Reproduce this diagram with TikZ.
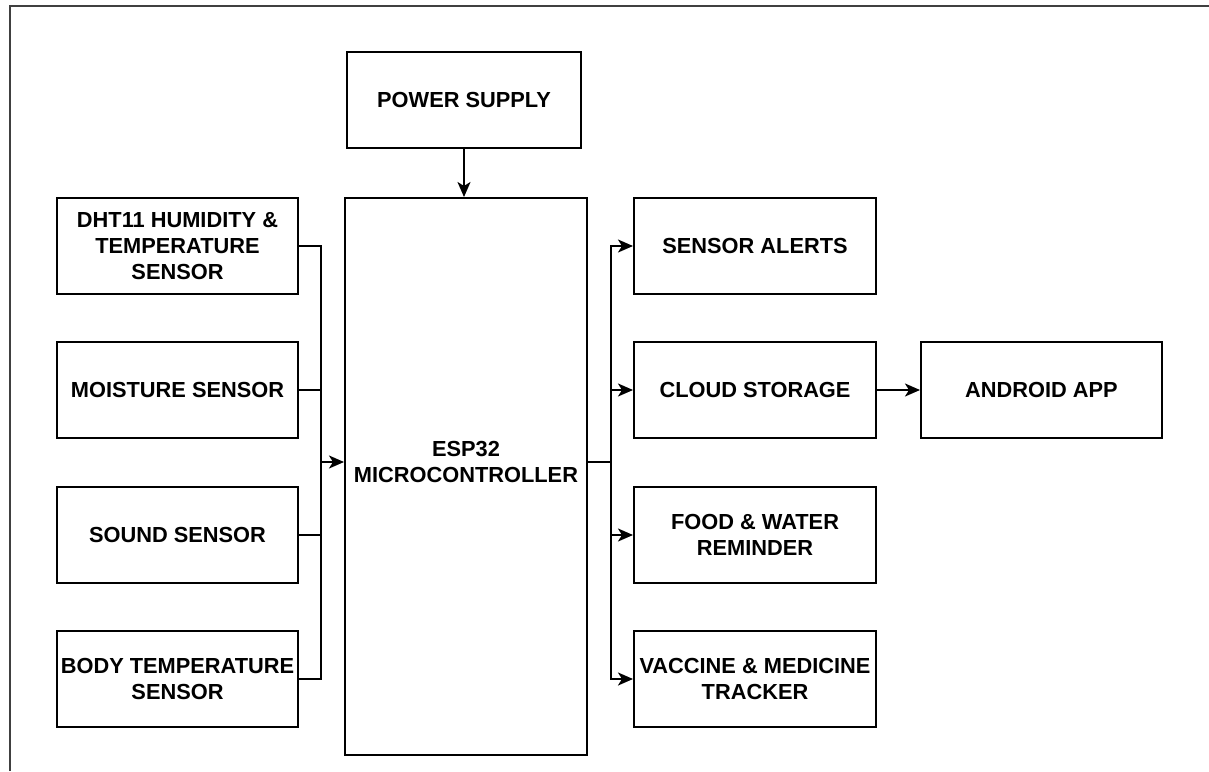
\documentclass[tikz,border=0pt]{standalone}
\usepackage{fontspec}
\setmainfont{Liberation Sans}
\usetikzlibrary{arrows.meta}
\begin{document}
\begin{tikzpicture}[x=1pt,y=-1pt,
  blk/.style={draw=black, line width=2pt, rectangle, inner sep=0pt, align=center,
    font=\fontsize{21.8}{26}\selectfont\bfseries},
  conn/.style={draw=black, line width=2pt},
  arr/.style={conn, -{Stealth[length=15pt,width=13pt,inset=4pt]}}]
\useasboundingbox (0,0) rectangle (1209,771);
\draw[line width=2.5pt, black!75] (10,771) -- (10,6) -- (1209,6);

\node[blk, minimum width=234pt, minimum height=96pt] (power) at (464,100) {POWER SUPPLY};
\node[blk, minimum width=242pt, minimum height=557pt] (esp) at (466,476.5) {};
\node[align=center, inner sep=0pt, font=\fontsize{21.8}{26}\selectfont\bfseries] (esplabel) at (466,462) {ESP32\\MICROCONTROLLER};

\node[blk, minimum width=241pt, minimum height=96pt] (dht) at (177.5,246) {DHT11 HUMIDITY \&\\TEMPERATURE\\SENSOR};
\node[blk, minimum width=241pt, minimum height=96pt] (moist) at (177.5,390) {MOISTURE SENSOR};
\node[blk, minimum width=241pt, minimum height=96pt] (sound) at (177.5,535) {SOUND SENSOR};
\node[blk, minimum width=241pt, minimum height=96pt] (body) at (177.5,679) {BODY TEMPERATURE\\SENSOR};

\node[blk, minimum width=242pt, minimum height=96pt] (alerts) at (755,246) {SENSOR ALERTS};
\node[blk, minimum width=242pt, minimum height=96pt] (cloud) at (755,390) {CLOUD STORAGE};
\node[blk, minimum width=242pt, minimum height=96pt] (food) at (755,535) {FOOD \& WATER\\REMINDER};
\node[blk, minimum width=242pt, minimum height=96pt] (vacc) at (755,679) {VACCINE \& MEDICINE\\TRACKER};
\node[blk, minimum width=241pt, minimum height=96pt] (android) at (1041.5,390) {ANDROID APP};

\coordinate (lbus) at (321,462);
\coordinate (rbus) at (611,462);

\draw[arr] (power.south) -- (power.south |- esp.north);

\draw[conn] (dht.east) -| (lbus);
\draw[conn] (moist.east) -| (lbus);
\draw[conn] (sound.east) -| (lbus);
\draw[conn] (body.east) -| (lbus);
\draw[arr] (lbus) -- (esp.west |- lbus);

\draw[conn] (esp.east |- rbus) -- (rbus);
\draw[arr] (rbus) |- (alerts.west);
\draw[arr] (rbus) |- (cloud.west);
\draw[arr] (rbus) |- (food.west);
\draw[arr] (rbus) |- (vacc.west);
\draw[arr] (cloud.east) -- (android.west);
\end{tikzpicture}
\end{document}
